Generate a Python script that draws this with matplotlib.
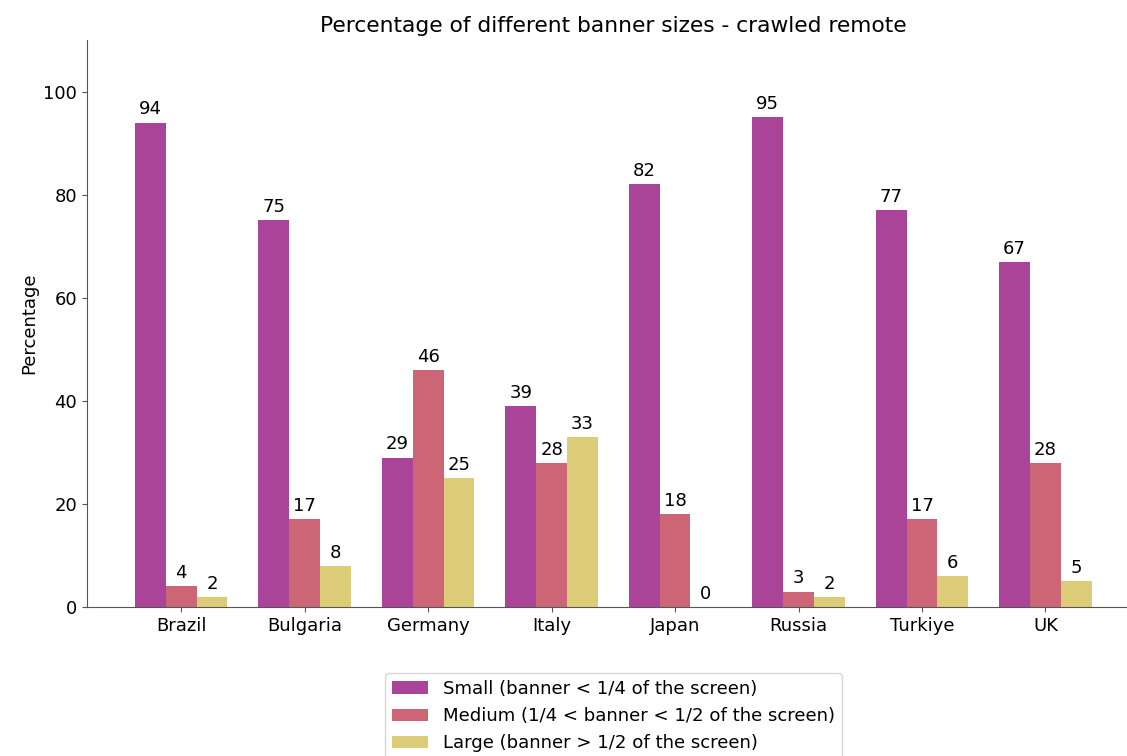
import matplotlib.pyplot as plt
import numpy as np

countries = ["Brazil", "Bulgaria", "Germany", "Italy", "Japan", "Russia", "Turkiye", "UK"]
small = [94, 75, 29, 39, 82, 95, 77, 67]
medium = [4, 17, 46, 28, 18, 3, 17, 28]
large = [2, 8, 25, 33, 0, 2, 6, 5]
labels = ["Small (banner < 1/4 of the screen)",
          "Medium (1/4 < banner < 1/2 of the screen)",
          "Large (banner > 1/2 of the screen)"]
colors = ["#AA4499", "#CC6677", "#DDCC77"]

fig = plt.figure(figsize=(11.27, 7.56), dpi=100)
ax = fig.add_axes([0.0772, 0.197, 0.934, 0.75])

x = np.arange(len(countries))
w = 0.25
for i, (vals, lab, c) in enumerate(zip([small, medium, large], labels, colors)):
    bars = ax.bar(x + (i - 1) * w, vals, w, label=lab, color=c)
    ax.bar_label(bars, padding=3, fontsize=13)

ax.set_xticks(x)
ax.set_xticklabels(countries, fontsize=13)
ax.tick_params(axis="y", labelsize=13)
ax.tick_params(colors="#555555", labelcolor="black")
ax.set_ylim(0, 110)
ax.set_ylabel("Percentage", fontsize=13)
ax.set_title("Percentage of different banner sizes - crawled remote", fontsize=15.7)
for s in ["top", "right"]:
    ax.spines[s].set_visible(False)
for s in ["left", "bottom"]:
    ax.spines[s].set_color("#555555")

ax.legend(loc="upper center", bbox_to_anchor=(0.5, -0.1), fontsize=13.1)

fig.savefig("out.png", dpi=100)
